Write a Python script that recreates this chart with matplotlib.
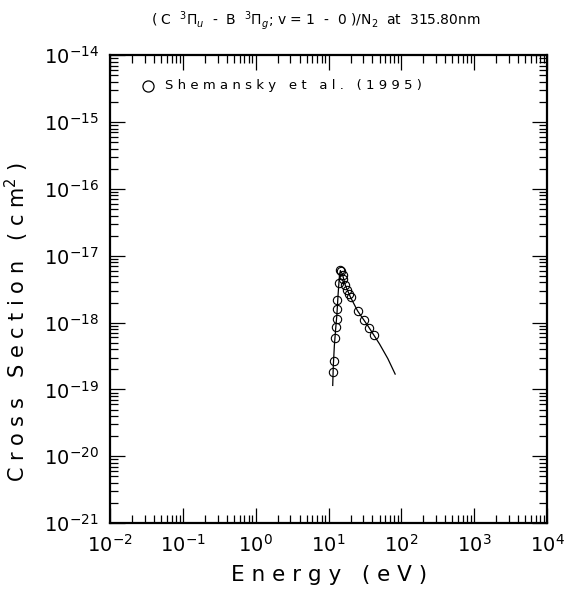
import matplotlib

matplotlib.use("Agg")
import matplotlib.pyplot as plt
from matplotlib.ticker import FixedLocator, NullFormatter, FuncFormatter
import numpy as np

energy_rise = [11.5, 11.7, 12.3, 12.8, 13.0, 13.2, 13.2, 13.7, 14.4]
sigma_rise = [1.85e-19, 2.7e-19, 5.9e-19, 8.7e-19, 1.15e-18, 1.6e-18, 2.2e-18, 3.9e-18, 6.1e-18]
energy_fall = [14.8, 15.7, 16.0, 16.9, 17.8, 19.2, 20.4, 25.7, 31.1, 36.1, 41.4]
sigma_fall = [6.0e-18, 5.1e-18, 4.5e-18, 3.6e-18, 3.1e-18, 2.7e-18, 2.4e-18, 1.5e-18, 1.11e-18, 8.2e-19, 6.5e-19]

# fitted curve
fit_energy = [11.4, 11.6, 12.0, 12.5, 13.0, 13.5, 14.0, 14.5, 15.5, 17.0, 20.0, 25.0, 35.0, 50.0, 65.0, 82.0]
fit_sigma = [1.15e-19, 2.2e-19, 4.5e-19, 8.0e-19, 1.3e-18, 2.6e-18, 4.6e-18, 6.0e-18, 5.3e-18, 3.6e-18, 2.4e-18, 1.5e-18, 8.8e-19, 4.8e-19, 2.9e-19, 1.7e-19]

x_decades = [-2, -1, 0, 1, 2, 3, 4]
y_decades = [-21, -20, -19, -18, -17, -16, -15, -14]

fig = plt.figure(figsize=(5.67, 6.0), dpi=100)
ax = fig.add_axes([0.194, 0.128, 0.771, 0.78])

ax.plot(fit_energy, fit_sigma, "k-", linewidth=0.9)
ax.plot(energy_rise + energy_fall, sigma_rise + sigma_fall, "o", mfc="none", mec="k",
        markersize=6, mew=0.8, linestyle="none")

ax.set_xscale("log")
ax.set_yscale("log")
ax.set_xlim(1e-2, 1e4)
ax.set_ylim(1e-21, 1e-14)

fmt = FuncFormatter(lambda v, p: r"$10^{%d}$" % round(np.log10(v)))
for axis, decs in ((ax.xaxis, x_decades), (ax.yaxis, y_decades)):
    axis.set_major_locator(FixedLocator([10.0 ** d for d in decs]))
    axis.set_minor_locator(FixedLocator([m * 10.0 ** d for d in decs[:-1] for m in range(2, 10)]))
    axis.set_minor_formatter(NullFormatter())
    axis.set_major_formatter(fmt)

ax.tick_params(which="both", direction="in", top=True, right=True, width=0.9)
ax.tick_params(which="major", length=11, labelsize=14, pad=8)
ax.tick_params(which="minor", length=6)
for s in ax.spines.values():
    s.set_linewidth(1.6)

ax.set_xlabel("E n e r g y   ( e V )", fontsize=15.5, labelpad=6)
ax.set_ylabel(r"C r o s s   S e c t i o n   ( c m$^2$ )", fontsize=15)
ax.yaxis.set_label_coords(-0.18, 0.43)

fig.text(0.557, 0.965,
         r"( C  $^3\Pi_u$  -  B  $^3\Pi_g$; v = 1  -  0 )/N$_2$  at  315.80nm",
         ha="center", va="center", fontsize=10)

ax.plot([0.033], [3.5e-15], "o", mfc="none", mec="k", markersize=8, mew=0.9)
ax.text(0.057, 3.5e-15, "S h e m a n s k y   e t   a l .   ( 1 9 9 5 )", fontsize=9.5,
        va="center", ha="left")

fig.savefig("out.png", dpi=100)
